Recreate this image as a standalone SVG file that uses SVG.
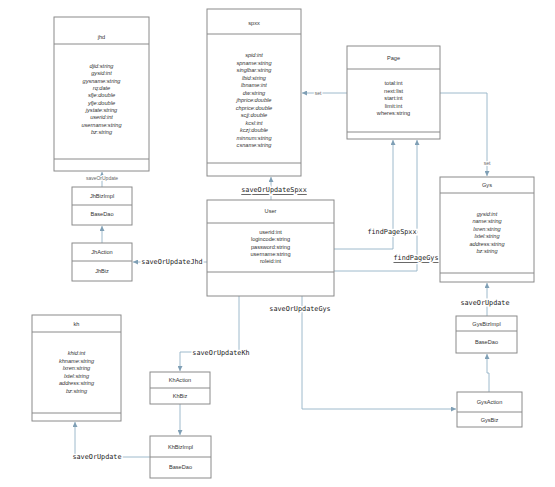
<svg xmlns="http://www.w3.org/2000/svg" width="555" height="487" viewBox="0 0 555 487">
<style>
.box{fill:#fff;stroke:#8a8a8a;stroke-width:1}
.sep{stroke:#8a8a8a;stroke-width:1}
.t{font-family:"Liberation Sans",Arial,sans-serif;font-size:5.6px;fill:#333;text-anchor:middle;dominant-baseline:central}
.it{font-style:italic}
.c{fill:none;stroke:#93b2c6;stroke-width:0.9}
.lbl{font-family:"DejaVu Sans Mono",monospace;font-size:6.8px;fill:#222;text-anchor:middle;dominant-baseline:central;stroke:#fff;stroke-width:3;paint-order:stroke}
.sm{font-family:"Liberation Sans",Arial,sans-serif;font-size:5px;fill:#666;text-anchor:middle;dominant-baseline:central;stroke:#fff;stroke-width:2;paint-order:stroke}
.u{text-decoration:underline}
</style>
<defs>
<marker id="a" markerUnits="userSpaceOnUse" markerWidth="5" markerHeight="5" refX="5" refY="2.5" orient="auto">
<path d="M0,0 L5,2.5 L0,5 z" fill="#7f9fb5"/>
</marker>
</defs>
<rect width="555" height="487" fill="#fff"/>

<g id="connectors">
<path class="c" d="M102,187 V172" marker-end="url(#a)"/>
<path class="c" d="M102,243 V226" marker-end="url(#a)"/>
<path class="c" d="M207,262 H133" marker-end="url(#a)"/>
<path class="c" d="M271,200 V177" marker-end="url(#a)"/>
<path class="c" d="M347,93 H302" marker-end="url(#a)"/>
<path class="c" d="M440,93 H487 V176" marker-end="url(#a)"/>
<path class="c" d="M334,249 H393 V140" marker-end="url(#a)"/>
<path class="c" d="M334,271 H417 V140" marker-end="url(#a)"/>
<path class="c" d="M239,296 V352 H180 V371" marker-end="url(#a)"/>
<path class="c" d="M180,404 V435" marker-end="url(#a)"/>
<path class="c" d="M150,457 H75 V422" marker-end="url(#a)"/>
<path class="c" d="M302,296 V409 H456" marker-end="url(#a)"/>
<path class="c" d="M489,392 V373 H487 V354" marker-end="url(#a)"/>
<path class="c" d="M487,316 V283" marker-end="url(#a)"/>
<text class="sm" x="102" y="178">saveOrUpdate</text>
<text class="lbl" x="172" y="262">saveOrUpdateJhd</text>
<text class="lbl u" x="274" y="190">saveOrUpdateSpxx</text>
<text class="sm" x="318" y="93">set</text>
<text class="sm" x="487" y="163">set</text>
<text class="lbl" x="392" y="232">findPageSpxx</text>
<text class="lbl u" x="416" y="258">findPageGys</text>
<text class="lbl" x="221" y="353">saveOrUpdateKh</text>
<text class="lbl" x="97" y="457">saveOrUpdate</text>
<text class="lbl" x="300" y="309">saveOrUpdateGys</text>
<text class="lbl" x="485" y="303">saveOrUpdate</text>
</g>

<g id="jhd">
<rect class="box" x="54" y="17" width="95" height="154"/>
<line class="sep" x1="54" y1="44" x2="149" y2="44"/>
<line class="sep" x1="54" y1="159" x2="149" y2="159"/>
<text class="t" x="101.5" y="37">jhd</text>
<text class="t it" x="101.5" y="66">djid:string</text>
<text class="t it" x="101.5" y="73.3">gysid:int</text>
<text class="t it" x="101.5" y="80.6">gysname:string</text>
<text class="t it" x="101.5" y="88">rq:date</text>
<text class="t it" x="101.5" y="95.3">sfje:double</text>
<text class="t it" x="101.5" y="102.6">yfje:double</text>
<text class="t it" x="101.5" y="110">jystate:string</text>
<text class="t it" x="101.5" y="117.3">userid:int</text>
<text class="t it" x="101.5" y="124.6">username:string</text>
<text class="t it" x="101.5" y="132">bz:string</text>
</g>

<g id="spxx">
<rect class="box" x="207" y="9" width="94" height="167"/>
<line class="sep" x1="207" y1="34" x2="301" y2="34"/>
<line class="sep" x1="207" y1="163" x2="301" y2="163"/>
<text class="t" x="254" y="23">spxx</text>
<text class="t it" x="254" y="55">spid:int</text>
<text class="t it" x="254" y="62.5">spname:string</text>
<text class="t it" x="254" y="70">singlbar:string</text>
<text class="t it" x="254" y="77.5">lbid:string</text>
<text class="t it" x="254" y="85">lbname:int</text>
<text class="t it" x="254" y="92.5">dw:string</text>
<text class="t it" x="254" y="100">jhprice:double</text>
<text class="t it" x="254" y="107.5">chprice:double</text>
<text class="t it" x="254" y="115">scjj:double</text>
<text class="t it" x="254" y="122.5">kcsl:int</text>
<text class="t it" x="254" y="130">kczj:double</text>
<text class="t it" x="254" y="137.5">minnum:string</text>
<text class="t it" x="254" y="145">csname:string</text>
</g>

<g id="page">
<rect class="box" x="347" y="46" width="93" height="93"/>
<line class="sep" x1="347" y1="69" x2="440" y2="69"/>
<line class="sep" x1="347" y1="132" x2="440" y2="132"/>
<text class="t" x="393.5" y="58">Page</text>
<text class="t" x="393.5" y="83">total:int</text>
<text class="t" x="393.5" y="90.5">next:list</text>
<text class="t" x="393.5" y="98">start:int</text>
<text class="t" x="393.5" y="105.5">limit:int</text>
<text class="t" x="393.5" y="113">wheres:string</text>
</g>

<g id="gys">
<rect class="box" x="440" y="177" width="94" height="105"/>
<line class="sep" x1="440" y1="193" x2="534" y2="193"/>
<line class="sep" x1="440" y1="273" x2="534" y2="273"/>
<text class="t" x="487" y="185">Gys</text>
<text class="t it" x="487" y="214">gysid:int</text>
<text class="t it" x="487" y="221.4">name:string</text>
<text class="t it" x="487" y="228.8">lxren:string</text>
<text class="t it" x="487" y="236.2">lxtel:string</text>
<text class="t it" x="487" y="243.6">address:string</text>
<text class="t it" x="487" y="251">bz:string</text>
</g>

<g id="user">
<rect class="box" x="207" y="200" width="127" height="96"/>
<line class="sep" x1="207" y1="223" x2="334" y2="223"/>
<line class="sep" x1="207" y1="272" x2="334" y2="272"/>
<text class="t" x="270.5" y="211">User</text>
<text class="t" x="270.5" y="232">userid:int</text>
<text class="t" x="270.5" y="239.3">logincode:string</text>
<text class="t" x="270.5" y="246.6">password:string</text>
<text class="t" x="270.5" y="253.9">username:string</text>
<text class="t" x="270.5" y="261.2">roleid:int</text>
</g>

<g id="kh">
<rect class="box" x="32" y="315" width="89" height="106"/>
<line class="sep" x1="32" y1="332" x2="121" y2="332"/>
<line class="sep" x1="32" y1="413" x2="121" y2="413"/>
<text class="t" x="76.5" y="324">kh</text>
<text class="t it" x="76.5" y="353">khid:int</text>
<text class="t it" x="76.5" y="360.6">khname:string</text>
<text class="t it" x="76.5" y="368.2">lxren:string</text>
<text class="t it" x="76.5" y="375.8">lxtel:string</text>
<text class="t it" x="76.5" y="383.4">address:string</text>
<text class="t it" x="76.5" y="391">bz:string</text>
</g>

<g id="jhbizimpl">
<rect class="box" x="72" y="187" width="60" height="38"/>
<line class="sep" x1="72" y1="205" x2="132" y2="205"/>
<text class="t" x="102" y="196">JhBizImpl</text>
<text class="t" x="102" y="214">BaseDao</text>
</g>

<g id="jhaction">
<rect class="box" x="72" y="243" width="60" height="38"/>
<line class="sep" x1="72" y1="261" x2="132" y2="261"/>
<text class="t" x="102" y="252">JhAction</text>
<text class="t" x="102" y="271">JhBiz</text>
</g>

<g id="khaction">
<rect class="box" x="150" y="372" width="60" height="32"/>
<line class="sep" x1="150" y1="388" x2="210" y2="388"/>
<text class="t" x="180" y="380">KhAction</text>
<text class="t" x="180" y="396">KhBiz</text>
</g>

<g id="khbizimpl">
<rect class="box" x="150" y="436" width="61" height="42"/>
<line class="sep" x1="150" y1="457" x2="211" y2="457"/>
<text class="t" x="180.5" y="447">KhBizImpl</text>
<text class="t" x="180.5" y="467">BaseDao</text>
</g>

<g id="gysbizimpl">
<rect class="box" x="456" y="316" width="61" height="37"/>
<line class="sep" x1="456" y1="331" x2="517" y2="331"/>
<text class="t" x="486.5" y="324">GysBizImpl</text>
<text class="t" x="486.5" y="342">BaseDao</text>
</g>

<g id="gysaction">
<rect class="box" x="457" y="392" width="65" height="35"/>
<line class="sep" x1="457" y1="412" x2="522" y2="412"/>
<text class="t" x="489.5" y="402">GysAction</text>
<text class="t" x="489.5" y="420">GysBiz</text>
</g>
</svg>
